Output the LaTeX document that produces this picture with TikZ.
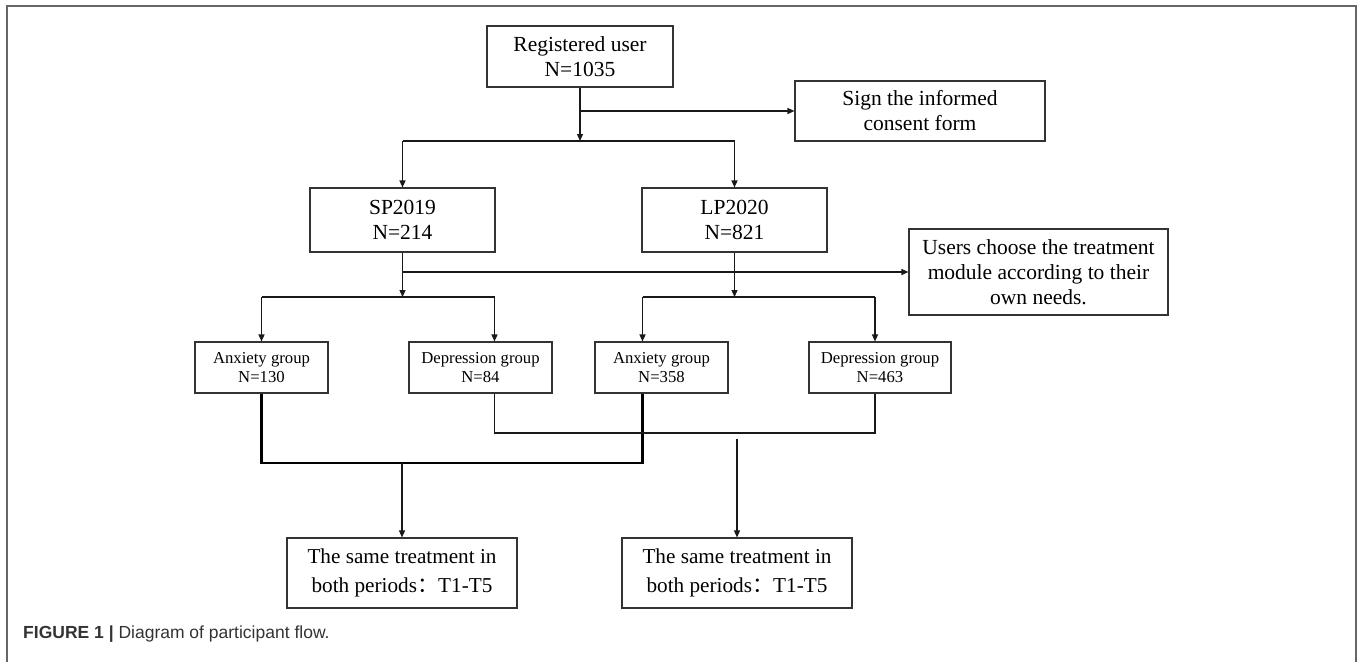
\documentclass[tikz,border=0pt]{standalone}
\usepackage{fontspec}
\setmainfont{Liberation Serif}
\setsansfont{Liberation Sans}
\newfontfamily\cjk{Noto Sans CJK SC}
\usetikzlibrary{arrows.meta}
\tikzset{
  box/.style={draw=black!80, line width=1.1pt, inner sep=0pt, align=center, font=\fontsize{21.5}{25}\selectfont},
  gbox/.style={box, font=\fontsize{16.7}{19.5}\selectfont},
  tbox/.style={box, font=\fontsize{21.2}{29}\selectfont},
  conn/.style={draw=black!90, line width=1.3pt},
  arr/.style={conn, -{Triangle[length=7pt,width=6pt]}},
  thick conn/.style={draw=black, line width=2.6pt},
}
\begin{document}
\begin{tikzpicture}[x=1pt,y=-1pt]
\useasboundingbox (0,0) rectangle (1358,662);
\draw[black!60, line width=1.6pt] (7,662) -- (7,6) -- (1356,6) -- (1356,662);

\node[box, minimum width=186pt, minimum height=61pt] (reg) at (580,56.5) {Registered user\\N=1035};
\node[box, minimum width=250pt, minimum height=60pt] (sign) at (920,111) {Sign the informed\\consent form};
\node[box, minimum width=185pt, minimum height=64pt] (sp) at (402.5,220) {SP2019\\N=214};
\node[box, minimum width=185pt, minimum height=64pt] (lp) at (734.5,220) {LP2020\\N=821};
\node[box, minimum width=259pt, minimum height=86pt] (users) at (1038.5,272) {Users choose the treatment\\module according to their\\own needs.};
\node[gbox, minimum width=133pt, minimum height=51pt] (a1) at (261.5,367.5) {Anxiety group\\N=130};
\node[gbox, minimum width=143pt, minimum height=51pt] (d1) at (480.5,367.5) {Depression group\\N=84};
\node[gbox, minimum width=133pt, minimum height=51pt] (a2) at (661.5,367.5) {Anxiety group\\N=358};
\node[gbox, minimum width=142pt, minimum height=51pt] (d2) at (880,367.5) {Depression group\\N=463};
\node[tbox, minimum width=230pt, minimum height=70pt] (t1) at (402,573) {The same treatment in\\both periods{\cjk ：}T1-T5};
\node[tbox, minimum width=230pt, minimum height=70pt] (t2) at (737,573) {The same treatment in\\both periods{\cjk ：}T1-T5};

% top split
\coordinate (j1) at (580,141);
\coordinate (jl) at (402.5,141);
\coordinate (jr) at (734.5,141);
\draw[arr] (reg.south) -- (j1);
\draw[arr] (reg.south |- sign.west) -- (sign.west);
\draw[conn] (jl) -- (jr);
\draw[arr] (jl) -- (sp.north);
\draw[arr] (jr) -- (lp.north);

% sp / lp to groups
\coordinate (k1) at (402.5,297);
\coordinate (k2) at (734.5,297);
\draw[arr] (sp.south) -- (k1);
\draw[arr] (sp.south |- users.west) -- (users.west);
\draw[arr] (lp.south) -- (k2);
\coordinate (k1l) at (261.5,297);
\coordinate (k1r) at (494.5,297);
\coordinate (k2l) at (642.5,297);
\coordinate (k2r) at (875,297);
\draw[conn] (k1l) -- (k1r);
\draw[conn] (k2l) -- (k2r);
\draw[arr] (k1l) -- (a1.north);
\draw[arr] (k1r) -- (k1r |- d1.north);
\draw[arr] (k2l) -- (k2l |- a2.north);
\draw[arr] (k2r) -- (k2r |- d2.north);

% anxiety merge (thick)
\draw[thick conn, line join=miter] (a1.south) -- (261.5,463) -- (642.5,463) -- (k2l |- a2.south);
\coordinate (m1) at (402,463);
\draw[arr] (m1) -- (t1.north);

% depression merge (thin)
\draw[conn] (k1r |- d1.south) -- (494.5,433) -- (875,433) -- (k2r |- d2.south);
\coordinate (m2) at (737,439);
\draw[arr] (m2) -- (t2.north);

% caption
\node[anchor=base west, inner sep=0pt, text=black!80, font=\sffamily\fontsize{17.5}{20}\selectfont] (cap) at (23,638) {\textbf{FIGURE 1 |} Diagram of participant flow.};
\end{tikzpicture}
\end{document}
